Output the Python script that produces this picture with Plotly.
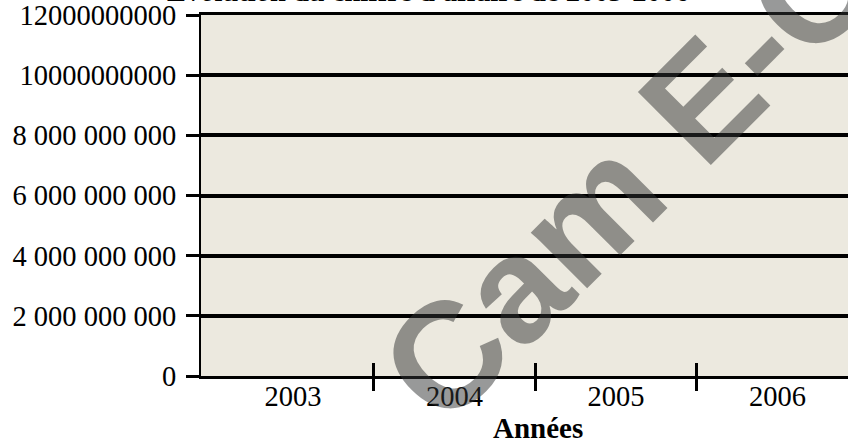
import plotly.graph_objects as go

# ---- data ----
annees = ["2003", "2004", "2005", "2006"]
chiffre_affaire = [None, None, None, None]  # no bars visible in the reference
y_tickvals = [0, 2e9, 4e9, 6e9, 8e9, 10e9, 12e9]
y_ticktext = ["0", "2 000 000 000", "4 000 000 000", "6 000 000 000",
              "8 000 000 000", "10000000000", "12000000000"]
titre = "Evolution du chiffre d'affaire de 2003-2006"
titre_x = "Années"
filigrane = "Cam E-C"

SERIF = "Liberation Serif"
BEIGE = "#ECE9DF"

x_range = [-0.57, 3.437]
boundaries = [i + 0.5 for i in range(len(annees) - 1)]

fig = go.Figure()
fig.add_trace(go.Bar(x=annees, y=chiffre_affaire, marker_color="#9999FF",
                     marker_line_width=0, showlegend=False, hoverinfo="skip"))
fig.add_trace(go.Scatter(x=[x_range[0]], y=[None], xaxis="x2", showlegend=False,
                         hoverinfo="skip", mode="markers"))
fig.add_trace(go.Scatter(x=[x_range[0]], y=[None], xaxis="x3", showlegend=False,
                         hoverinfo="skip", mode="markers"))

fig.update_layout(
    width=848, height=445,
    margin=dict(l=201, r=0, t=13, b=69),
    paper_bgcolor="white",
    plot_bgcolor=BEIGE,
    font=dict(family=SERIF, color="black", size=28.5),
    xaxis=dict(type="category", categoryorder="array", categoryarray=annees,
               range=x_range, ticks="", showgrid=False, zeroline=False,
               showline=True, linecolor="black", linewidth=3, mirror=True,
               tickfont=dict(family=SERIF, size=28.5, color="black"),
               ticklabelstandoff=-7),
    xaxis2=dict(overlaying="x", anchor="y", side="bottom", type="linear",
                range=x_range, tickmode="array", tickvals=boundaries,
                showticklabels=False, ticks="outside", ticklen=14, tickwidth=3,
                tickcolor="black", showgrid=False, zeroline=False, showline=False),
    xaxis3=dict(overlaying="x", anchor="y", side="bottom", type="linear",
                range=x_range, tickmode="array", tickvals=boundaries,
                showticklabels=False, ticks="inside", ticklen=13, tickwidth=3,
                tickcolor="black", showgrid=False, zeroline=False, showline=False),
    yaxis=dict(range=[0, 12e9], tickmode="array", tickvals=y_tickvals,
               ticktext=y_ticktext, ticks="outside", ticklen=13, tickwidth=3,
               tickcolor="black", showgrid=True, gridcolor="black", gridwidth=4,
               zeroline=False, showline=True, linecolor="black", linewidth=2,
               tickfont=dict(family=SERIF, size=28.5, color="black"),
               ticklabelstandoff=4, ticklabeloverflow="allow"),
)

fig.add_annotation(text="<b>" + titre + "</b>", xref="paper", yref="paper",
                   x=0.351, y=1.064, xanchor="center", yanchor="middle",
                   showarrow=False,
                   font=dict(family=SERIF, size=28.5, color="black"))
fig.add_annotation(text="<b>" + titre_x + "</b>", xref="paper", yref="paper",
                   x=0.521, y=-0.143, xanchor="center", yanchor="middle",
                   showarrow=False, font=dict(family=SERIF, size=29, color="black"))
fig.add_annotation(text="<b>" + filigrane + "</b>", xref="paper", yref="paper",
                   x=0.66, y=0.56, xanchor="center", yanchor="middle",
                   textangle=-45, showarrow=False,
                   font=dict(family="Liberation Sans", size=150,
                             color="rgba(50,52,52,0.5)"))

fig.write_html("out.html",
               config={"displayModeBar": False},
               post_script="document.body.style.margin='0';"
                           "document.body.style.overflow='hidden';")
